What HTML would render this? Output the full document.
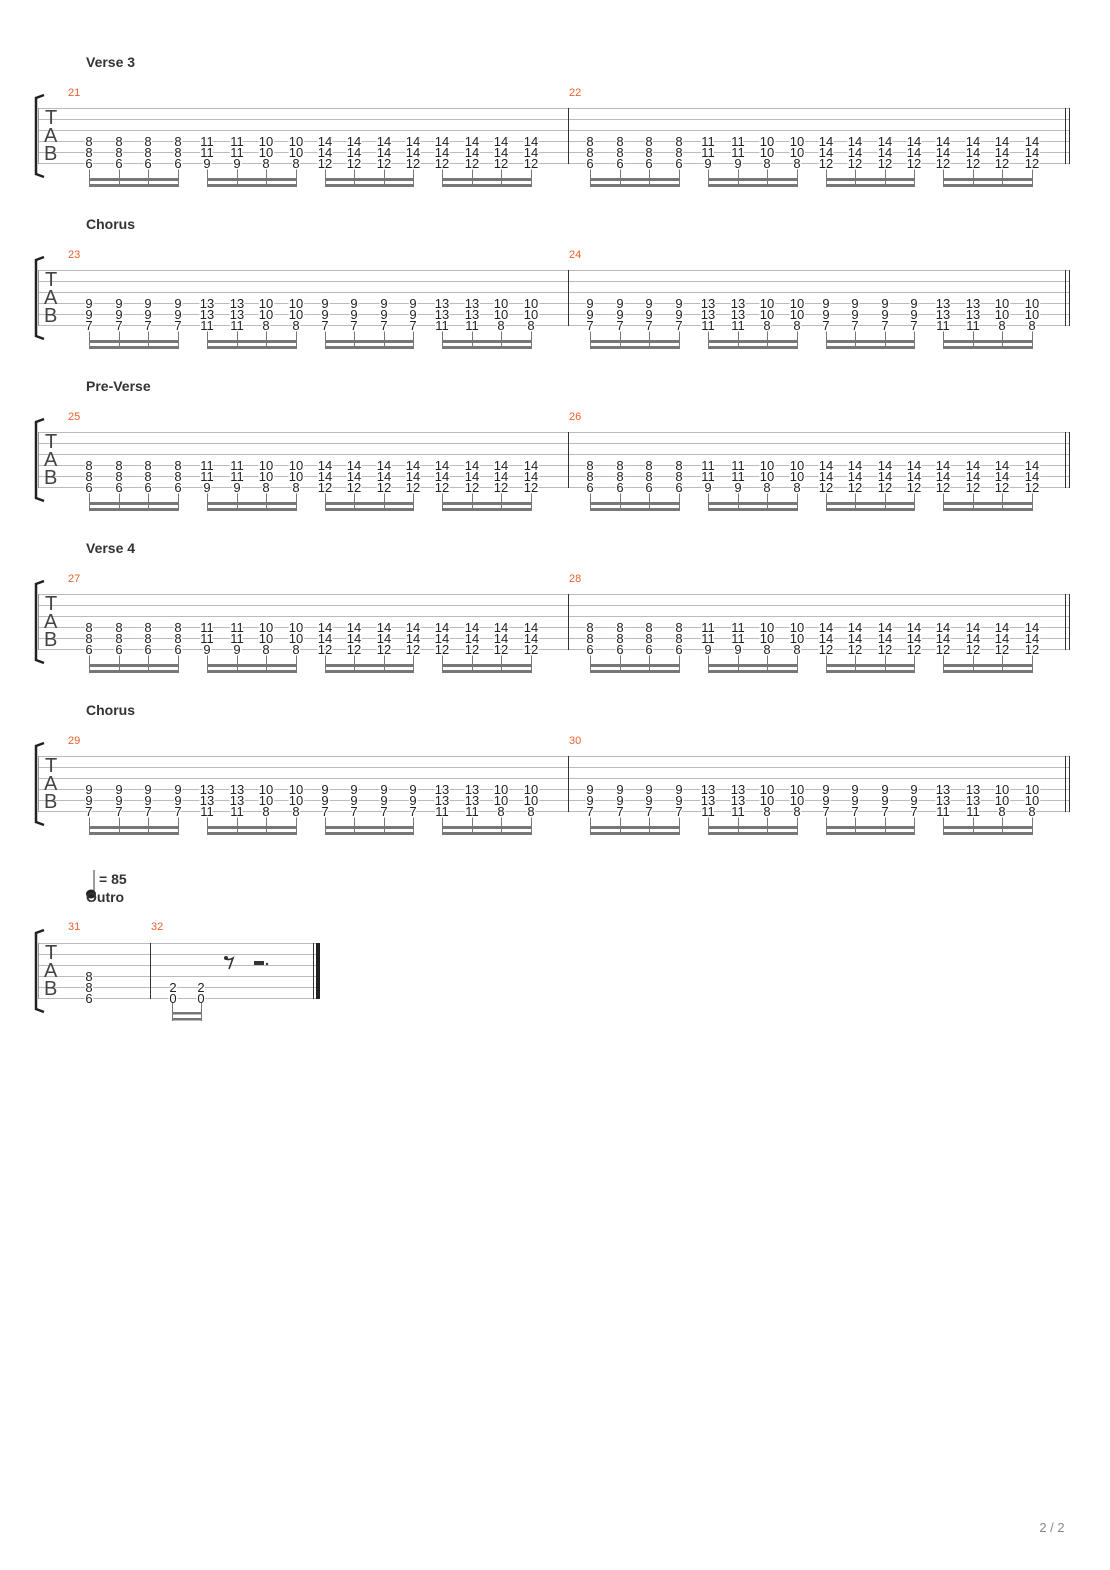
<!DOCTYPE html>
<html><head><meta charset="utf-8"><style>
html,body{margin:0;padding:0;background:#fff;width:1110px;height:1570px;overflow:hidden}
svg{display:block}
.n{font-family:"Liberation Sans",sans-serif;font-size:13px;fill:#222;text-anchor:middle;stroke:#fff;stroke-width:3px;paint-order:stroke}
.h{font-family:"Liberation Sans",sans-serif;font-size:14px;font-weight:bold;fill:#333}
.m{font-family:"Liberation Sans",sans-serif;font-size:11px;fill:#e8612c}
.t{font-family:"Liberation Sans",sans-serif;font-size:20px;fill:#444}
.sl{stroke:#bbb;stroke-width:1}
.st{stroke:#777;stroke-width:1}
.bm{fill:#777}
</style></head><body>
<svg width="1110" height="1570" xmlns="http://www.w3.org/2000/svg">
<defs>
<g id="staff">
<line class="sl" x1="38" y1="0.5" x2="1070" y2="0.5"/><line class="sl" x1="38" y1="11.5" x2="1070" y2="11.5"/><line class="sl" x1="38" y1="22.5" x2="1070" y2="22.5"/><line class="sl" x1="38" y1="33.5" x2="1070" y2="33.5"/><line class="sl" x1="38" y1="44.5" x2="1070" y2="44.5"/><line class="sl" x1="38" y1="55.5" x2="1070" y2="55.5"/>
<line x1="38.5" y1="0" x2="38.5" y2="56" stroke="#999"/>
<line x1="568.5" y1="0" x2="568.5" y2="56" stroke="#333"/>
<line x1="1065.5" y1="0" x2="1065.5" y2="56" stroke="#333"/>
<line x1="1069.5" y1="0" x2="1069.5" y2="56" stroke="#333"/>
<path d="M44 -13 L36 -10 L36 66 L44 69" fill="none" stroke="#222" stroke-width="2.5"/>
<text class="t" x="45" y="16">T</text><text class="t" x="44" y="34">A</text><text class="t" x="44" y="52">B</text>
<g class="st">
<line x1="89.5" y1="58" x2="89.5" y2="79"/><line x1="119.5" y1="58" x2="119.5" y2="79"/><line x1="148.5" y1="58" x2="148.5" y2="79"/><line x1="178.5" y1="58" x2="178.5" y2="79"/>
<line x1="207.5" y1="58" x2="207.5" y2="79"/><line x1="237.5" y1="58" x2="237.5" y2="79"/><line x1="266.5" y1="58" x2="266.5" y2="79"/><line x1="296.5" y1="58" x2="296.5" y2="79"/>
<line x1="325.5" y1="58" x2="325.5" y2="79"/><line x1="354.5" y1="58" x2="354.5" y2="79"/><line x1="384.5" y1="58" x2="384.5" y2="79"/><line x1="413.5" y1="58" x2="413.5" y2="79"/>
<line x1="442.5" y1="58" x2="442.5" y2="79"/><line x1="472.5" y1="58" x2="472.5" y2="79"/><line x1="501.5" y1="58" x2="501.5" y2="79"/><line x1="531.5" y1="58" x2="531.5" y2="79"/>
<line x1="590.5" y1="58" x2="590.5" y2="79"/><line x1="620.5" y1="58" x2="620.5" y2="79"/><line x1="649.5" y1="58" x2="649.5" y2="79"/><line x1="679.5" y1="58" x2="679.5" y2="79"/>
<line x1="708.5" y1="58" x2="708.5" y2="79"/><line x1="738.5" y1="58" x2="738.5" y2="79"/><line x1="767.5" y1="58" x2="767.5" y2="79"/><line x1="797.5" y1="58" x2="797.5" y2="79"/>
<line x1="826.5" y1="58" x2="826.5" y2="79"/><line x1="855.5" y1="58" x2="855.5" y2="79"/><line x1="885.5" y1="58" x2="885.5" y2="79"/><line x1="914.5" y1="58" x2="914.5" y2="79"/>
<line x1="943.5" y1="58" x2="943.5" y2="79"/><line x1="973.5" y1="58" x2="973.5" y2="79"/><line x1="1002.5" y1="58" x2="1002.5" y2="79"/><line x1="1032.5" y1="58" x2="1032.5" y2="79"/>
</g>
<g class="bm">
<rect x="89" y="70" width="90" height="3"/><rect x="89" y="76" width="90" height="3"/>
<rect x="207" y="70" width="90" height="3"/><rect x="207" y="76" width="90" height="3"/>
<rect x="325" y="70" width="89" height="3"/><rect x="325" y="76" width="89" height="3"/>
<rect x="442" y="70" width="90" height="3"/><rect x="442" y="76" width="90" height="3"/>
<rect x="590" y="70" width="90" height="3"/><rect x="590" y="76" width="90" height="3"/>
<rect x="708" y="70" width="90" height="3"/><rect x="708" y="76" width="90" height="3"/>
<rect x="826" y="70" width="89" height="3"/><rect x="826" y="76" width="89" height="3"/>
<rect x="943" y="70" width="90" height="3"/><rect x="943" y="76" width="90" height="3"/>
</g>
</g>
</defs>

<text class="h" x="86" y="67">Verse 3</text>
<text class="m" x="68" y="96">21</text><text class="m" x="569" y="96">22</text>
<g transform="translate(0,108)"><use href="#staff"/>
<text class="n" y="38"><tspan x="89">8</tspan><tspan x="119">8</tspan><tspan x="148">8</tspan><tspan x="178">8</tspan><tspan x="207">11</tspan><tspan x="237">11</tspan><tspan x="266">10</tspan><tspan x="296">10</tspan><tspan x="325">14</tspan><tspan x="354">14</tspan><tspan x="384">14</tspan><tspan x="413">14</tspan><tspan x="442">14</tspan><tspan x="472">14</tspan><tspan x="501">14</tspan><tspan x="531">14</tspan><tspan x="590">8</tspan><tspan x="620">8</tspan><tspan x="649">8</tspan><tspan x="679">8</tspan><tspan x="708">11</tspan><tspan x="738">11</tspan><tspan x="767">10</tspan><tspan x="797">10</tspan><tspan x="826">14</tspan><tspan x="855">14</tspan><tspan x="885">14</tspan><tspan x="914">14</tspan><tspan x="943">14</tspan><tspan x="973">14</tspan><tspan x="1002">14</tspan><tspan x="1032">14</tspan></text>
<text class="n" y="49"><tspan x="89">8</tspan><tspan x="119">8</tspan><tspan x="148">8</tspan><tspan x="178">8</tspan><tspan x="207">11</tspan><tspan x="237">11</tspan><tspan x="266">10</tspan><tspan x="296">10</tspan><tspan x="325">14</tspan><tspan x="354">14</tspan><tspan x="384">14</tspan><tspan x="413">14</tspan><tspan x="442">14</tspan><tspan x="472">14</tspan><tspan x="501">14</tspan><tspan x="531">14</tspan><tspan x="590">8</tspan><tspan x="620">8</tspan><tspan x="649">8</tspan><tspan x="679">8</tspan><tspan x="708">11</tspan><tspan x="738">11</tspan><tspan x="767">10</tspan><tspan x="797">10</tspan><tspan x="826">14</tspan><tspan x="855">14</tspan><tspan x="885">14</tspan><tspan x="914">14</tspan><tspan x="943">14</tspan><tspan x="973">14</tspan><tspan x="1002">14</tspan><tspan x="1032">14</tspan></text>
<text class="n" y="60"><tspan x="89">6</tspan><tspan x="119">6</tspan><tspan x="148">6</tspan><tspan x="178">6</tspan><tspan x="207">9</tspan><tspan x="237">9</tspan><tspan x="266">8</tspan><tspan x="296">8</tspan><tspan x="325">12</tspan><tspan x="354">12</tspan><tspan x="384">12</tspan><tspan x="413">12</tspan><tspan x="442">12</tspan><tspan x="472">12</tspan><tspan x="501">12</tspan><tspan x="531">12</tspan><tspan x="590">6</tspan><tspan x="620">6</tspan><tspan x="649">6</tspan><tspan x="679">6</tspan><tspan x="708">9</tspan><tspan x="738">9</tspan><tspan x="767">8</tspan><tspan x="797">8</tspan><tspan x="826">12</tspan><tspan x="855">12</tspan><tspan x="885">12</tspan><tspan x="914">12</tspan><tspan x="943">12</tspan><tspan x="973">12</tspan><tspan x="1002">12</tspan><tspan x="1032">12</tspan></text>
</g>

<text class="h" x="86" y="229">Chorus</text>
<text class="m" x="68" y="258">23</text><text class="m" x="569" y="258">24</text>
<g transform="translate(0,270)"><use href="#staff"/>
<text class="n" y="38"><tspan x="89">9</tspan><tspan x="119">9</tspan><tspan x="148">9</tspan><tspan x="178">9</tspan><tspan x="207">13</tspan><tspan x="237">13</tspan><tspan x="266">10</tspan><tspan x="296">10</tspan><tspan x="325">9</tspan><tspan x="354">9</tspan><tspan x="384">9</tspan><tspan x="413">9</tspan><tspan x="442">13</tspan><tspan x="472">13</tspan><tspan x="501">10</tspan><tspan x="531">10</tspan><tspan x="590">9</tspan><tspan x="620">9</tspan><tspan x="649">9</tspan><tspan x="679">9</tspan><tspan x="708">13</tspan><tspan x="738">13</tspan><tspan x="767">10</tspan><tspan x="797">10</tspan><tspan x="826">9</tspan><tspan x="855">9</tspan><tspan x="885">9</tspan><tspan x="914">9</tspan><tspan x="943">13</tspan><tspan x="973">13</tspan><tspan x="1002">10</tspan><tspan x="1032">10</tspan></text>
<text class="n" y="49"><tspan x="89">9</tspan><tspan x="119">9</tspan><tspan x="148">9</tspan><tspan x="178">9</tspan><tspan x="207">13</tspan><tspan x="237">13</tspan><tspan x="266">10</tspan><tspan x="296">10</tspan><tspan x="325">9</tspan><tspan x="354">9</tspan><tspan x="384">9</tspan><tspan x="413">9</tspan><tspan x="442">13</tspan><tspan x="472">13</tspan><tspan x="501">10</tspan><tspan x="531">10</tspan><tspan x="590">9</tspan><tspan x="620">9</tspan><tspan x="649">9</tspan><tspan x="679">9</tspan><tspan x="708">13</tspan><tspan x="738">13</tspan><tspan x="767">10</tspan><tspan x="797">10</tspan><tspan x="826">9</tspan><tspan x="855">9</tspan><tspan x="885">9</tspan><tspan x="914">9</tspan><tspan x="943">13</tspan><tspan x="973">13</tspan><tspan x="1002">10</tspan><tspan x="1032">10</tspan></text>
<text class="n" y="60"><tspan x="89">7</tspan><tspan x="119">7</tspan><tspan x="148">7</tspan><tspan x="178">7</tspan><tspan x="207">11</tspan><tspan x="237">11</tspan><tspan x="266">8</tspan><tspan x="296">8</tspan><tspan x="325">7</tspan><tspan x="354">7</tspan><tspan x="384">7</tspan><tspan x="413">7</tspan><tspan x="442">11</tspan><tspan x="472">11</tspan><tspan x="501">8</tspan><tspan x="531">8</tspan><tspan x="590">7</tspan><tspan x="620">7</tspan><tspan x="649">7</tspan><tspan x="679">7</tspan><tspan x="708">11</tspan><tspan x="738">11</tspan><tspan x="767">8</tspan><tspan x="797">8</tspan><tspan x="826">7</tspan><tspan x="855">7</tspan><tspan x="885">7</tspan><tspan x="914">7</tspan><tspan x="943">11</tspan><tspan x="973">11</tspan><tspan x="1002">8</tspan><tspan x="1032">8</tspan></text>
</g>

<text class="h" x="86" y="391">Pre-Verse</text>
<text class="m" x="68" y="420">25</text><text class="m" x="569" y="420">26</text>
<g transform="translate(0,432)"><use href="#staff"/>
<text class="n" y="38"><tspan x="89">8</tspan><tspan x="119">8</tspan><tspan x="148">8</tspan><tspan x="178">8</tspan><tspan x="207">11</tspan><tspan x="237">11</tspan><tspan x="266">10</tspan><tspan x="296">10</tspan><tspan x="325">14</tspan><tspan x="354">14</tspan><tspan x="384">14</tspan><tspan x="413">14</tspan><tspan x="442">14</tspan><tspan x="472">14</tspan><tspan x="501">14</tspan><tspan x="531">14</tspan><tspan x="590">8</tspan><tspan x="620">8</tspan><tspan x="649">8</tspan><tspan x="679">8</tspan><tspan x="708">11</tspan><tspan x="738">11</tspan><tspan x="767">10</tspan><tspan x="797">10</tspan><tspan x="826">14</tspan><tspan x="855">14</tspan><tspan x="885">14</tspan><tspan x="914">14</tspan><tspan x="943">14</tspan><tspan x="973">14</tspan><tspan x="1002">14</tspan><tspan x="1032">14</tspan></text>
<text class="n" y="49"><tspan x="89">8</tspan><tspan x="119">8</tspan><tspan x="148">8</tspan><tspan x="178">8</tspan><tspan x="207">11</tspan><tspan x="237">11</tspan><tspan x="266">10</tspan><tspan x="296">10</tspan><tspan x="325">14</tspan><tspan x="354">14</tspan><tspan x="384">14</tspan><tspan x="413">14</tspan><tspan x="442">14</tspan><tspan x="472">14</tspan><tspan x="501">14</tspan><tspan x="531">14</tspan><tspan x="590">8</tspan><tspan x="620">8</tspan><tspan x="649">8</tspan><tspan x="679">8</tspan><tspan x="708">11</tspan><tspan x="738">11</tspan><tspan x="767">10</tspan><tspan x="797">10</tspan><tspan x="826">14</tspan><tspan x="855">14</tspan><tspan x="885">14</tspan><tspan x="914">14</tspan><tspan x="943">14</tspan><tspan x="973">14</tspan><tspan x="1002">14</tspan><tspan x="1032">14</tspan></text>
<text class="n" y="60"><tspan x="89">6</tspan><tspan x="119">6</tspan><tspan x="148">6</tspan><tspan x="178">6</tspan><tspan x="207">9</tspan><tspan x="237">9</tspan><tspan x="266">8</tspan><tspan x="296">8</tspan><tspan x="325">12</tspan><tspan x="354">12</tspan><tspan x="384">12</tspan><tspan x="413">12</tspan><tspan x="442">12</tspan><tspan x="472">12</tspan><tspan x="501">12</tspan><tspan x="531">12</tspan><tspan x="590">6</tspan><tspan x="620">6</tspan><tspan x="649">6</tspan><tspan x="679">6</tspan><tspan x="708">9</tspan><tspan x="738">9</tspan><tspan x="767">8</tspan><tspan x="797">8</tspan><tspan x="826">12</tspan><tspan x="855">12</tspan><tspan x="885">12</tspan><tspan x="914">12</tspan><tspan x="943">12</tspan><tspan x="973">12</tspan><tspan x="1002">12</tspan><tspan x="1032">12</tspan></text>
</g>

<text class="h" x="86" y="553">Verse 4</text>
<text class="m" x="68" y="582">27</text><text class="m" x="569" y="582">28</text>
<g transform="translate(0,594)"><use href="#staff"/>
<text class="n" y="38"><tspan x="89">8</tspan><tspan x="119">8</tspan><tspan x="148">8</tspan><tspan x="178">8</tspan><tspan x="207">11</tspan><tspan x="237">11</tspan><tspan x="266">10</tspan><tspan x="296">10</tspan><tspan x="325">14</tspan><tspan x="354">14</tspan><tspan x="384">14</tspan><tspan x="413">14</tspan><tspan x="442">14</tspan><tspan x="472">14</tspan><tspan x="501">14</tspan><tspan x="531">14</tspan><tspan x="590">8</tspan><tspan x="620">8</tspan><tspan x="649">8</tspan><tspan x="679">8</tspan><tspan x="708">11</tspan><tspan x="738">11</tspan><tspan x="767">10</tspan><tspan x="797">10</tspan><tspan x="826">14</tspan><tspan x="855">14</tspan><tspan x="885">14</tspan><tspan x="914">14</tspan><tspan x="943">14</tspan><tspan x="973">14</tspan><tspan x="1002">14</tspan><tspan x="1032">14</tspan></text>
<text class="n" y="49"><tspan x="89">8</tspan><tspan x="119">8</tspan><tspan x="148">8</tspan><tspan x="178">8</tspan><tspan x="207">11</tspan><tspan x="237">11</tspan><tspan x="266">10</tspan><tspan x="296">10</tspan><tspan x="325">14</tspan><tspan x="354">14</tspan><tspan x="384">14</tspan><tspan x="413">14</tspan><tspan x="442">14</tspan><tspan x="472">14</tspan><tspan x="501">14</tspan><tspan x="531">14</tspan><tspan x="590">8</tspan><tspan x="620">8</tspan><tspan x="649">8</tspan><tspan x="679">8</tspan><tspan x="708">11</tspan><tspan x="738">11</tspan><tspan x="767">10</tspan><tspan x="797">10</tspan><tspan x="826">14</tspan><tspan x="855">14</tspan><tspan x="885">14</tspan><tspan x="914">14</tspan><tspan x="943">14</tspan><tspan x="973">14</tspan><tspan x="1002">14</tspan><tspan x="1032">14</tspan></text>
<text class="n" y="60"><tspan x="89">6</tspan><tspan x="119">6</tspan><tspan x="148">6</tspan><tspan x="178">6</tspan><tspan x="207">9</tspan><tspan x="237">9</tspan><tspan x="266">8</tspan><tspan x="296">8</tspan><tspan x="325">12</tspan><tspan x="354">12</tspan><tspan x="384">12</tspan><tspan x="413">12</tspan><tspan x="442">12</tspan><tspan x="472">12</tspan><tspan x="501">12</tspan><tspan x="531">12</tspan><tspan x="590">6</tspan><tspan x="620">6</tspan><tspan x="649">6</tspan><tspan x="679">6</tspan><tspan x="708">9</tspan><tspan x="738">9</tspan><tspan x="767">8</tspan><tspan x="797">8</tspan><tspan x="826">12</tspan><tspan x="855">12</tspan><tspan x="885">12</tspan><tspan x="914">12</tspan><tspan x="943">12</tspan><tspan x="973">12</tspan><tspan x="1002">12</tspan><tspan x="1032">12</tspan></text>
</g>

<text class="h" x="86" y="715">Chorus</text>
<text class="m" x="68" y="744">29</text><text class="m" x="569" y="744">30</text>
<g transform="translate(0,756)"><use href="#staff"/>
<text class="n" y="38"><tspan x="89">9</tspan><tspan x="119">9</tspan><tspan x="148">9</tspan><tspan x="178">9</tspan><tspan x="207">13</tspan><tspan x="237">13</tspan><tspan x="266">10</tspan><tspan x="296">10</tspan><tspan x="325">9</tspan><tspan x="354">9</tspan><tspan x="384">9</tspan><tspan x="413">9</tspan><tspan x="442">13</tspan><tspan x="472">13</tspan><tspan x="501">10</tspan><tspan x="531">10</tspan><tspan x="590">9</tspan><tspan x="620">9</tspan><tspan x="649">9</tspan><tspan x="679">9</tspan><tspan x="708">13</tspan><tspan x="738">13</tspan><tspan x="767">10</tspan><tspan x="797">10</tspan><tspan x="826">9</tspan><tspan x="855">9</tspan><tspan x="885">9</tspan><tspan x="914">9</tspan><tspan x="943">13</tspan><tspan x="973">13</tspan><tspan x="1002">10</tspan><tspan x="1032">10</tspan></text>
<text class="n" y="49"><tspan x="89">9</tspan><tspan x="119">9</tspan><tspan x="148">9</tspan><tspan x="178">9</tspan><tspan x="207">13</tspan><tspan x="237">13</tspan><tspan x="266">10</tspan><tspan x="296">10</tspan><tspan x="325">9</tspan><tspan x="354">9</tspan><tspan x="384">9</tspan><tspan x="413">9</tspan><tspan x="442">13</tspan><tspan x="472">13</tspan><tspan x="501">10</tspan><tspan x="531">10</tspan><tspan x="590">9</tspan><tspan x="620">9</tspan><tspan x="649">9</tspan><tspan x="679">9</tspan><tspan x="708">13</tspan><tspan x="738">13</tspan><tspan x="767">10</tspan><tspan x="797">10</tspan><tspan x="826">9</tspan><tspan x="855">9</tspan><tspan x="885">9</tspan><tspan x="914">9</tspan><tspan x="943">13</tspan><tspan x="973">13</tspan><tspan x="1002">10</tspan><tspan x="1032">10</tspan></text>
<text class="n" y="60"><tspan x="89">7</tspan><tspan x="119">7</tspan><tspan x="148">7</tspan><tspan x="178">7</tspan><tspan x="207">11</tspan><tspan x="237">11</tspan><tspan x="266">8</tspan><tspan x="296">8</tspan><tspan x="325">7</tspan><tspan x="354">7</tspan><tspan x="384">7</tspan><tspan x="413">7</tspan><tspan x="442">11</tspan><tspan x="472">11</tspan><tspan x="501">8</tspan><tspan x="531">8</tspan><tspan x="590">7</tspan><tspan x="620">7</tspan><tspan x="649">7</tspan><tspan x="679">7</tspan><tspan x="708">11</tspan><tspan x="738">11</tspan><tspan x="767">8</tspan><tspan x="797">8</tspan><tspan x="826">7</tspan><tspan x="855">7</tspan><tspan x="885">7</tspan><tspan x="914">7</tspan><tspan x="943">11</tspan><tspan x="973">11</tspan><tspan x="1002">8</tspan><tspan x="1032">8</tspan></text>
</g>

<line x1="94" y1="870" x2="94" y2="893" stroke="#333" stroke-width="1"/>
<ellipse cx="91" cy="894" rx="5" ry="4.5" fill="#222"/>
<text class="h" x="99" y="884">= 85</text>
<text class="h" x="86" y="902">Outro</text>
<text class="m" x="68" y="930">31</text><text class="m" x="151" y="930">32</text>
<g transform="translate(0,943)">
<line class="sl" x1="38" y1="0.5" x2="320" y2="0.5"/><line class="sl" x1="38" y1="11.5" x2="320" y2="11.5"/><line class="sl" x1="38" y1="22.5" x2="320" y2="22.5"/><line class="sl" x1="38" y1="33.5" x2="320" y2="33.5"/><line class="sl" x1="38" y1="44.5" x2="320" y2="44.5"/><line class="sl" x1="38" y1="55.5" x2="320" y2="55.5"/>
<line x1="38.5" y1="0" x2="38.5" y2="56" stroke="#999"/>
<line x1="150.5" y1="0" x2="150.5" y2="56" stroke="#333"/>
<line x1="313.5" y1="0" x2="313.5" y2="56" stroke="#333"/>
<rect x="316" y="0" width="4" height="56" fill="#222"/>
<path d="M44 -13 L36 -10 L36 66 L44 69" fill="none" stroke="#222" stroke-width="2.5"/>
<text class="t" x="45" y="16">T</text><text class="t" x="44" y="34">A</text><text class="t" x="44" y="52">B</text>
<text class="n" y="38"><tspan x="89">8</tspan></text>
<text class="n" y="49"><tspan x="89">8</tspan><tspan x="173">2</tspan><tspan x="201">2</tspan></text>
<text class="n" y="60"><tspan x="89">6</tspan><tspan x="173">0</tspan><tspan x="201">0</tspan></text>
<line class="st" x1="172.5" y1="60" x2="172.5" y2="78"/><line class="st" x1="201.5" y1="60" x2="201.5" y2="78"/>
<rect class="bm" x="172" y="69" width="30" height="2.5"/><rect class="bm" x="172" y="75" width="30" height="2.5"/>
<circle cx="226" cy="15" r="2" fill="#333"/>
<path d="M225 15 Q228 18 233 15 L229 26" fill="none" stroke="#333" stroke-width="1.6"/>
<rect x="254" y="18" width="10" height="4" fill="#333"/>
<circle cx="267" cy="21" r="1.2" fill="#333"/>
</g>

<text x="1052" y="1532" font-family="Liberation Sans, sans-serif" font-size="13" fill="#888" text-anchor="middle">2 / 2</text>
</svg>
</body></html>
